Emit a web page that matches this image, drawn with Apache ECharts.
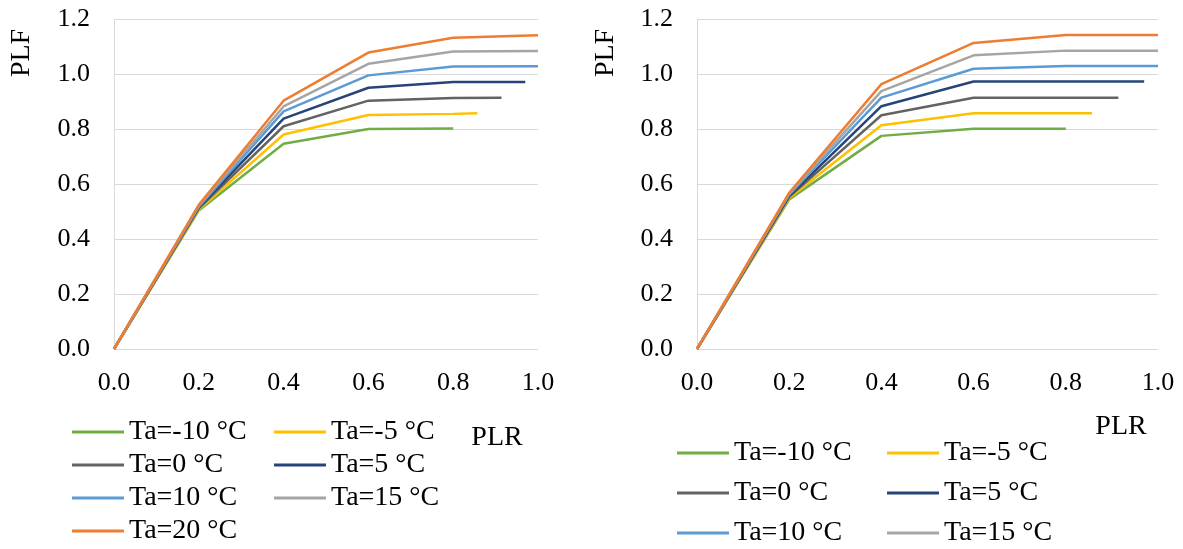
<!DOCTYPE html>
<html><head><meta charset="utf-8">
<script src="https://cdn.jsdelivr.net/npm/echarts@6/dist/echarts.min.js"></script>
<style>html,body{margin:0;padding:0;background:#fff}#c{width:1183px;height:549px}</style>
</head><body><div id="c"></div>
<script>
// Series labels and colours
const tempLabels = ['Ta=-10 °C','Ta=-5 °C','Ta=0 °C','Ta=5 °C','Ta=10 °C','Ta=15 °C','Ta=20 °C'];
const colors = ['#70AD47','#FFC000','#636363','#264478','#5B9BD5','#A5A5A5','#ED7D31'];
// PLR breakpoints per temperature (last value = max PLR reached)
const plrM10 = [0, 0.2, 0.4, 0.6, 0.8];
const plrM5  = [0, 0.2, 0.4, 0.6, 0.8, 0.857];
const plr0   = [0, 0.2, 0.4, 0.6, 0.8, 0.914];
const plr5   = [0, 0.2, 0.4, 0.6, 0.8, 0.97];
const plr10  = [0, 0.2, 0.4, 0.6, 0.8, 1.0];
const plr15  = [0, 0.2, 0.4, 0.6, 0.8, 1.0];
const plr20  = [0, 0.2, 0.4, 0.6, 0.8, 1.0];
// Left chart PLF values
const leftM10 = [0, 0.504, 0.746, 0.800, 0.802];
const leftM5  = [0, 0.507, 0.780, 0.851, 0.855, 0.857];
const left0   = [0, 0.511, 0.810, 0.903, 0.913, 0.914];
const left5   = [0, 0.515, 0.838, 0.950, 0.971, 0.971];
const left10  = [0, 0.518, 0.864, 0.995, 1.027, 1.028];
const left15  = [0, 0.521, 0.882, 1.037, 1.082, 1.084];
const left20  = [0, 0.524, 0.903, 1.078, 1.132, 1.141];
// Right chart PLF values
const rightM10 = [0, 0.544, 0.775, 0.801, 0.801];
const rightM5  = [0, 0.549, 0.814, 0.857, 0.857, 0.857];
const right0   = [0, 0.553, 0.850, 0.914, 0.914, 0.914];
const right5   = [0, 0.557, 0.883, 0.973, 0.973, 0.973];
const right10  = [0, 0.561, 0.914, 1.019, 1.029, 1.029];
const right15  = [0, 0.565, 0.938, 1.068, 1.085, 1.085];
const right20  = [0, 0.568, 0.963, 1.113, 1.142, 1.142];
// Axis ticks
const xTicks = [0, 0.2, 0.4, 0.6, 0.8, 1.0];
const yTicks = [0, 0.2, 0.4, 0.6, 0.8, 1.0, 1.2];

const plrSets = [plrM10, plrM5, plr0, plr5, plr10, plr15, plr20];
const leftSets = [leftM10, leftM5, left0, left5, left10, left15, left20];
const rightSets = [rightM10, rightM5, right0, right5, right10, right15, right20];

const FONT = '"Liberation Serif", "DejaVu Serif", serif';
const pair = (xs, ys) => xs.map((x, i) => [x, ys[i]]);

function axesFor(gi) {
  return {
    x: {
      type: 'value', gridIndex: gi, min: xTicks[0], max: xTicks[xTicks.length-1],
      interval: xTicks[1]-xTicks[0],
      axisLine: {show: false}, axisTick: {show: false}, splitLine: {show: false},
      axisLabel: {margin: 21, color: '#000', fontFamily: FONT, fontSize: 26,
        formatter: v => v.toFixed(1)}
    },
    y: {
      type: 'value', gridIndex: gi, min: yTicks[0], max: yTicks[yTicks.length-1],
      interval: yTicks[1]-yTicks[0],
      axisLine: {show: true, lineStyle: {color: '#D9D9D9', width: 1}},
      axisTick: {show: false},
      splitLine: {show: true, lineStyle: {color: '#D9D9D9', width: 1}},
      axisLabel: {margin: 24, color: '#000', fontFamily: FONT, fontSize: 26,
        formatter: v => v.toFixed(1)}
    }
  };
}
const a0 = axesFor(0), a1 = axesFor(1);

const series = [];
[leftSets, rightSets].forEach((sets, gi) => {
  sets.forEach((ys, i) => {
    series.push({
      type: 'line', name: tempLabels[i], xAxisIndex: gi, yAxisIndex: gi,
      data: pair(plrSets[i], ys), symbol: 'none', z: 2 + i,
      lineStyle: {color: colors[i], width: 2.5}, itemStyle: {color: colors[i]},
      animation: false
    });
  });
});

function legendsFor(cols, rows) {
  return tempLabels.map((name, i) => ({
    data: [name], left: cols[i % 2], top: rows[Math.floor(i / 2)] - 14,
    padding: 0, icon: 'rect', itemWidth: 52, itemHeight: 3, itemGap: 0,
    textStyle: {fontFamily: FONT, fontSize: 28, lineHeight: 28, color: '#000'}
  }));
}
const legends = legendsFor([72, 274], [432, 465, 498, 531])
  .concat(legendsFor([677, 887], [453, 493, 533, 573]));

const txt = (t, x, y, rot) => ({
  type: 'text', x: x, y: y, rotation: rot || 0,
  style: {text: t, fontFamily: FONT, fontSize: 28, fill: '#000',
    textAlign: 'center', textVerticalAlign: 'middle'}
});

const chart = echarts.init(document.getElementById('c'), null, {renderer: 'canvas'});
chart.setOption({
  animation: false,
  backgroundColor: '#fff',
  grid: [
    {left: 114, right: 645, top: 19, bottom: 200},
    {left: 697, right: 25, top: 19, bottom: 200}
  ],
  xAxis: [a0.x, a1.x],
  yAxis: [a0.y, a1.y],
  legend: legends,
  series: series,
  graphic: [
    txt('PLF', 22, 53, Math.PI / 2),
    txt('PLF', 606, 53, Math.PI / 2),
    txt('PLR', 497, 438),
    txt('PLR', 1121, 427)
  ]
});
</script></body></html>
